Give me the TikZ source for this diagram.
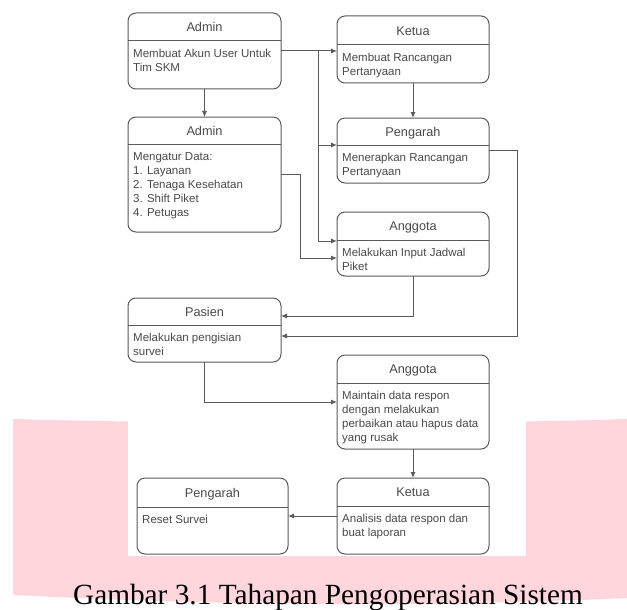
\documentclass[tikz,border=0pt]{standalone}
\usepackage{fontspec}
\setmainfont{Liberation Sans}
\newfontfamily\capfont{Liberation Serif}
\usetikzlibrary{arrows.meta}
\definecolor{linegray}{HTML}{5A5A5A}
\definecolor{textgray}{HTML}{4A4A4A}
\definecolor{pinkband}{HTML}{FFD6DB}
\tikzset{
  lane/.style={draw=linegray, line width=1pt, rounded corners=8pt, fill=white, inner sep=0pt, outer sep=0pt},
  lanestroke/.style={draw=linegray, line width=1pt},
  titletext/.style={anchor=base, inner sep=0pt, text=textgray, font=\fontsize{12.7}{14}\selectfont},
  bodytext/.style={anchor=north west, inner sep=0pt, align=left, text=textgray, font=\fontsize{11.5}{14}\selectfont},
  conn/.style={draw=linegray, line width=1pt, -{Latex[length=6pt,width=5pt]}},
}
\newcommand\lanebox[8]{%
  \node[lane, anchor=north west, minimum width={(#4-#2)*1pt}, minimum height={(#5-#3)*1pt}] (#1) at (#2,#3) {};
  \draw[lanestroke] (#2,#6) -- (#4,#6);
  \node[titletext] (#1-t) at ({(#2+#4)/2},{(#3+#6)/2+4.6}) {#7};
  \node[bodytext] (#1-b) at ({#2+5},{#6+8}) {#8};
}
\begin{document}
\begin{tikzpicture}[x=1pt,y=-1pt]
\fill[white] (0,0) rectangle (627,610);
\useasboundingbox (0,0) rectangle (627,610);
% pink watermark band
\fill[pinkband] (13,419) .. controls (200,424) and (430,425) .. (627,419) -- (627,598)
  .. controls (450,606) and (250,607) .. (13,595) -- cycle;
\fill[white] (128,0) rectangle (526,556);

\lanebox{a1}{128}{13}{281}{89}{41}{Admin}{Membuat Akun User Untuk\\Tim SKM}
\lanebox{k1}{337}{16}{489}{83}{45}{Ketua}{Membuat Rancangan\\Pertanyaan}
\lanebox{a2}{128}{117}{281}{232}{144}{Admin}{Mengatur Data:\\1. Layanan\\2. Tenaga Kesehatan\\3. Shift Piket\\4. Petugas}
\lanebox{p1}{337}{118}{489}{183}{145}{Pengarah}{Menerapkan Rancangan\\Pertanyaan}
\lanebox{g1}{337}{212}{489}{276}{240}{Anggota}{Melakukan Input Jadwal\\Piket}
\lanebox{pa}{128}{298}{281}{362}{325}{Pasien}{Melakukan pengisian\\survei}
\lanebox{g2}{337}{355}{489}{449}{383}{Anggota}{Maintain data respon\\dengan melakukan\\perbaikan atau hapus data\\yang rusak}
\lanebox{k2}{337}{478}{489}{554}{506}{Ketua}{Analisis data respon dan\\buat laporan}
\lanebox{p2}{137}{478}{288}{554}{507}{Pengarah}{Reset Survei}

\coordinate (j1) at (318,51);
\draw[conn] (a1.east) -- (a1.east -| k1.west);
\draw[conn] (a1.south) -- (a2.north);
\draw[conn] (a1.east) -- (j1) |- (337,145);
\draw[conn] (a1.east) -- (j1) |- ([yshift=3pt]g1.west);
\draw[conn] (k1.south) -- (p1.north);
\draw[conn] (a2.east) -- ++(19,0) |- ([yshift=-14pt]g1.west);
\draw[conn] (g1.south) |- ([yshift=14pt]pa.east);
\draw[conn] (p1.east) -- ++(28,0) |- ([yshift=-6pt]pa.east);
\draw[conn] (pa.south) |- (g2.west);
\draw[conn] (g2.south) -- (k2.north);
\draw[conn] (k2.west) -- (p2.east);

\node[anchor=base, inner sep=0pt, font=\capfont\fontsize{29.3}{32}\selectfont] (cap) at (328,604) {Gambar 3.1 Tahapan Pengoperasian Sistem};
\end{tikzpicture}
\end{document}
